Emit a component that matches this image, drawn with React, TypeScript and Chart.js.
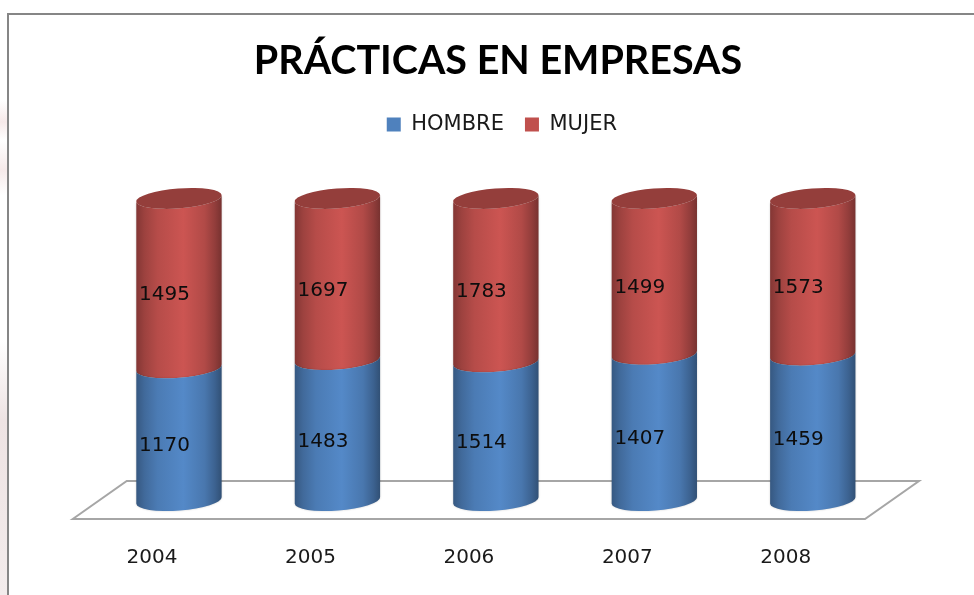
import React, { useEffect, useRef } from "react";
import { Chart, BarController, BarElement, registerables } from "chart.js";

const chartTitle = "PRÁCTICAS EN EMPRESAS";
const years = ["2004", "2005", "2006", "2007", "2008"];
const hombre = [1170, 1483, 1514, 1407, 1459];
const mujer = [1495, 1697, 1783, 1499, 1573];
const BLUE = "#4f81bd";
const RED = "#c0504d";
const FONT = "'DejaVu Sans', sans-serif";

const percent = (own: number[], other: number[]) => own.map((v, i) => (v / (v + other[i])) * 100);

function shade(hex: string, k: number) {
  const n = parseInt(hex.slice(1), 16);
  const c = [(n >> 16) & 255, (n >> 8) & 255, n & 255].map((v) => Math.min(255, Math.round(v * k)));
  return `rgb(${c[0]},${c[1]},${c[2]})`;
}

const TILT = -0.077;
const RY = 10;
const SHADES: [number, number][] = [[0, 0.68], [0.1, 0.82], [0.25, 0.95], [0.55, 1.06], [0.8, 0.92], [0.92, 0.76], [1, 0.62]];

class CylinderElement extends BarElement {
  static id = "cylinder";
  draw(ctx: CanvasRenderingContext2D) {
    const { x, y, base, width } = (this as any).getProps(["x", "y", "base", "width"], true);
    const color = (this as any).options.backgroundColor as string;
    const rx = width / 2;
    const g = ctx.createLinearGradient(x - rx, 0, x + rx, 0);
    SHADES.forEach(([p, k]) => g.addColorStop(p, shade(color, k)));
    ctx.save();
    ctx.shadowColor = "rgba(0,0,0,0.22)";
    ctx.shadowBlur = 2;
    ctx.fillStyle = g;
    ctx.beginPath();
    ctx.ellipse(x, base, rx, RY, TILT, 0, Math.PI, false);
    ctx.ellipse(x, y, rx, RY, TILT, Math.PI, 0, true);
    ctx.closePath();
    ctx.fill();
    ctx.shadowColor = "transparent";
    if ((this as any).capped) {
      ctx.fillStyle = shade(color, 0.77);
      ctx.beginPath();
      ctx.ellipse(x, y, rx, RY, TILT, 0, Math.PI * 2);
      ctx.fill();
    }
    ctx.restore();
  }
}

class CylinderController extends BarController {
  static id = "cylinderBar";
  static defaults = { ...(BarController as any).defaults, dataElementType: "cylinder" };
  updateElements(bars: any[], start: number, count: number, mode: any) {
    super.updateElements(bars, start, count, mode);
    const last = (this as any).chart.data.datasets.length - 1;
    bars.forEach((b) => {
      b.capped = (this as any).index === last;
    });
  }
}

Chart.register(...registerables, CylinderElement as any, CylinderController as any);

const framePlugin = {
  id: "frame",
  beforeDraw(chart: any) {
    const { ctx, chartArea: a } = chart;
    ctx.save();
    ctx.fillStyle = "#ffffff";
    ctx.fillRect(8, 14, chart.width, chart.height);
    ctx.strokeStyle = "#868686";
    ctx.lineWidth = 2;
    ctx.strokeRect(8, 14, chart.width + 20, chart.height + 20);
    ctx.strokeStyle = "#a6a6a6";
    ctx.lineWidth = 2;
    ctx.beginPath();
    ctx.moveTo(a.left - 27, a.bottom + 18.5);
    ctx.lineTo(a.left + 27, a.bottom - 19.5);
    ctx.lineTo(a.right + 27, a.bottom - 19.5);
    ctx.lineTo(a.right - 27, a.bottom + 18.5);
    ctx.closePath();
    ctx.stroke();
    ctx.restore();
  },
};

const headerPlugin = {
  id: "header",
  afterLayout(chart: any) {
    const t = chart.titleBlock;
    const titleTop = 61 - t.height / 2;
    t.bottom += titleTop - t.top;
    t.top = titleTop;
    t.left = 22;
    t.right = chart.width;
    const l = chart.legend;
    const legendTop = 124 - l.options.labels.padding - 10;
    l.bottom += legendTop - l.top;
    l.top = legendTop;
    l.left += 6;
    l.right += 6;
  },
};

const valueLabels = {
  id: "valueLabels",
  afterDatasetsDraw(chart: any) {
    const { ctx } = chart;
    const sources = [hombre, mujer];
    ctx.save();
    ctx.fillStyle = "#0d0d0d";
    ctx.font = `20px ${FONT}`;
    ctx.textAlign = "center";
    ctx.textBaseline = "middle";
    sources.forEach((vals, d) => {
      chart.getDatasetMeta(d).data.forEach((bar: any, i: number) => {
        ctx.fillText(String(vals[i]), bar.x - 14.5, (bar.y + bar.base) / 2 + 11.5);
      });
    });
    ctx.restore();
  },
};

export default function App() {
  const ref = useRef<HTMLCanvasElement>(null);
  useEffect(() => {
    const chart = new Chart(ref.current!, {
      type: "cylinderBar" as any,
      data: {
        labels: years,
        datasets: [
          { label: "HOMBRE", data: percent(hombre, mujer), backgroundColor: BLUE, clip: false },
          { label: "MUJER", data: percent(mujer, hombre), backgroundColor: RED, clip: false },
        ],
      },
      options: {
        animation: false,
        responsive: false,
        devicePixelRatio: 1,
        layout: { padding: { left: 99.75, right: 82, top: 99, bottom: 26 } },
        datasets: { cylinderBar: { categoryPercentage: 0.54, barPercentage: 1 } } as any,
        scales: {
          x: {
            type: "category",
            stacked: true,
            border: { display: false },
            grid: { display: false, drawTicks: false },
            ticks: { color: "#1a1a1a", font: { family: FONT, size: 20 }, padding: 45.5, labelOffset: -27, maxRotation: 0 },
            afterFit(scale: any) {
              scale.height = 68.5;
            },
          },
          y: { type: "linear", stacked: true, min: 0, max: 100, display: false },
        },
        plugins: {
          title: {
            display: true,
            text: chartTitle,
            color: "#000000",
            font: { family: "Lato, sans-serif", size: 39.5, weight: "bold" },
            padding: 0,
          },
          legend: {
            position: "top",
            labels: {
              color: "#1a1a1a",
              font: { family: FONT, size: 21 },
              boxWidth: 14,
              boxHeight: 14,
              padding: 21,
            },
          },
          tooltip: { enabled: false },
        },
      } as any,
      plugins: [framePlugin, headerPlugin, valueLabels],
    });
    return () => chart.destroy();
  }, []);
  return (
    <div
      style={{
        position: "fixed",
        inset: 0,
        overflow: "hidden",
        background: "linear-gradient(to bottom, #fff 100px, #f6e9e9 122px, #fff 140px, #f6eaea 170px, #fff 195px, #fff 340px, #eee3e3 420px, #f3ecec 595px) 0 0 / 8px 100% no-repeat",
      }}
    >
      <canvas ref={ref} width={974} height={595} style={{ display: "block" }} />
    </div>
  );
}
